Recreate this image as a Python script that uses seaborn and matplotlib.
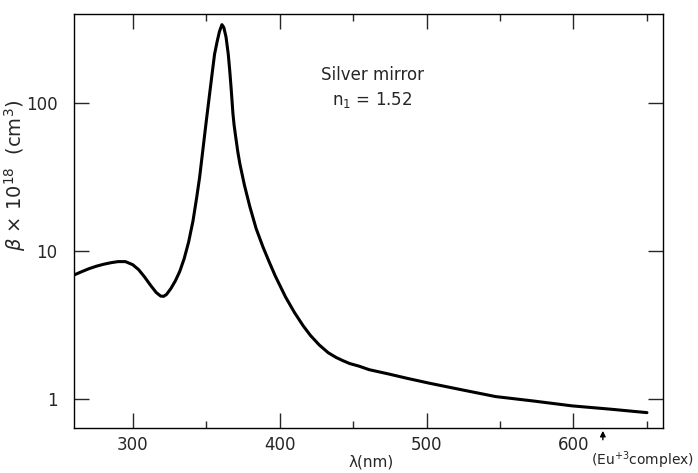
import numpy as np
import pandas as pd
import matplotlib
matplotlib.use("Agg")
import matplotlib.pyplot as plt
import seaborn as sns

# wavelength (nm) and beta x 1e18 (cm^3)
wavelength = [260, 265, 270, 275, 280, 285, 290, 295, 300, 304, 308, 312, 316,
              319, 321, 323, 326, 329, 332, 335, 338, 341, 343.5, 345.5, 348,
              350, 352, 354, 355.7, 357.5, 359, 360.7, 362, 363.5, 365, 366,
              367, 368.2, 369, 370, 371.5, 372.9, 376, 379.7, 384, 388.6, 393,
              397, 404, 410, 416, 421, 427, 433, 438.5, 443, 447.6, 454, 461,
              474, 487, 502, 525, 547, 573, 599, 625, 650]
beta = [6.9, 7.25, 7.6, 7.9, 8.15, 8.35, 8.5, 8.5, 8.1, 7.5, 6.7, 5.9, 5.25,
        4.97, 4.95, 5.1, 5.6, 6.3, 7.3, 8.9, 11.5, 16, 23, 31.5, 51,
        75, 109, 158, 215, 263, 305, 340, 325, 280, 215, 167,
        125, 85, 71, 60, 47, 39, 28, 20, 14.2, 10.7, 8.4,
        6.8, 4.9, 3.86, 3.13, 2.69, 2.32, 2.06, 1.91, 1.82, 1.74, 1.67, 1.58,
        1.48, 1.38, 1.28, 1.15, 1.04, 0.97, 0.90, 0.855, 0.81]

xticks = [300, 400, 500, 600]
xminor = [350, 450, 550, 650]
yticks = [1, 10, 100]
ytick_labels = ["1", "10", "100"]

df = pd.DataFrame({"wavelength": wavelength, "beta": beta})

sns.set_style("ticks")
plt.rcParams["font.family"] = ["DejaVu Sans"]

fig = plt.figure(figsize=(6.98, 4.73), dpi=100)
ax = fig.add_axes([0.106, 0.095, 0.844, 0.875])

sns.lineplot(data=df, x="wavelength", y="beta", ax=ax, color="black",
             linewidth=2.2, sort=False)

ax.set_yscale("log")
ax.set_xlim(260, 661)
ax.set_ylim(0.637, 400)

ax.set_xticks(xticks)
ax.set_xticklabels([str(t) for t in xticks], fontsize=12)
ax.set_xticks(xminor, minor=True)
ax.set_yticks(yticks)
ax.set_yticklabels(ytick_labels, fontsize=12)
ax.yaxis.set_minor_locator(matplotlib.ticker.NullLocator())

ax.tick_params(which="both", direction="in", top=True, right=True, width=1.0)
ax.tick_params(which="major", length=11)
ax.tick_params(which="minor", length=5)
ax.tick_params(axis="x", which="major", pad=6)
ax.tick_params(axis="y", which="major", pad=12)

for s in ax.spines.values():
    s.set_linewidth(1.0)
    s.set_color("black")

ax.set_xlabel("λ(nm)", fontsize=11)
ax.xaxis.set_label_coords(0.505, -0.064)
ax.set_ylabel(r"$\beta$ × 10$^{18}$  (cm$^3$)", fontsize=14)
ax.yaxis.set_label_coords(-0.078, 0.61)

ax.text(463, 155, "Silver mirror", ha="center", va="center", fontsize=12)
ax.text(463, 105, r"n$_1$ = 1.52", ha="center", va="center", fontsize=12)

# Eu+3 emission marker below the axis
ax.annotate("", xy=(620, 0.0), xytext=(620, -0.035),
            xycoords=("data", "axes fraction"),
            textcoords=("data", "axes fraction"),
            arrowprops=dict(arrowstyle="-|>", color="black", lw=1.0,
                            mutation_scale=8))
ax.text(612, -0.078, r"(Eu$^{+3}$complex)", transform=ax.get_xaxis_transform(),
        ha="left", va="center", fontsize=10)

fig.savefig("out.png", dpi=100)
